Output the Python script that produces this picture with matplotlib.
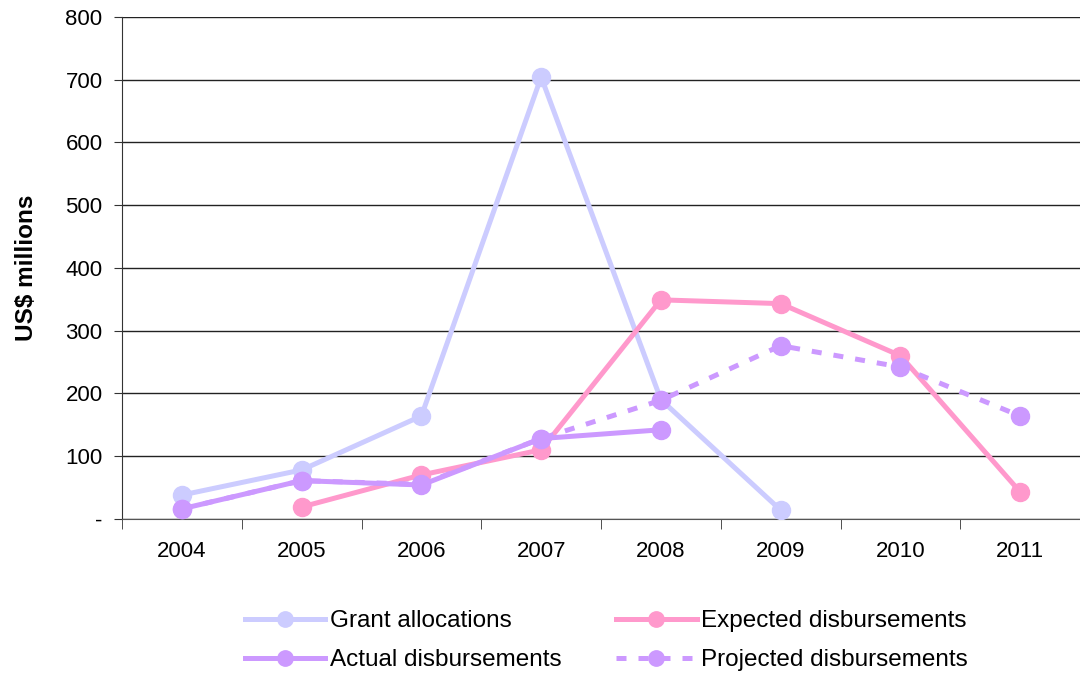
import matplotlib.pyplot as plt
import numpy as np

plt.rcParams['font.family'] = ['Liberation Sans', 'DejaVu Sans']

years = ['2004', '2005', '2006', '2007', '2008', '2009', '2010', '2011']
grant = [38, 78, 164, 704, 190, 14, None, None]
expected = [None, 19, 70, 110, 349, 343, 260, 43]
actual = [16, 61, 54, 128, 142, None, None, None]
projected = [16, 61, 55, 128, 189, 276, 242, 164]

x = np.arange(len(years))
fs = 16
lfs = 17.5


def series(vals):
    return np.array([np.nan if v is None else v for v in vals], dtype=float)


fig = plt.figure(figsize=(10.8, 6.73), dpi=100)
ax = fig.add_axes([0.113, 0.229, 0.887, 0.746])

lw = 3.6
ms = 13
ax.plot(x, series(grant), color='#CCCCFF', lw=lw, marker='o', ms=ms,
        label='Grant allocations', zorder=3)
ax.plot(x, series(expected), color='#FF99CC', lw=lw, marker='o', ms=ms,
        label='Expected disbursements', zorder=4)
ax.plot(x, series(projected), color='#CC99FF', lw=lw, marker='o', ms=ms,
        dashes=(2.0, 2.4), label='Projected disbursements', zorder=5)
ax.plot(x, series(actual), color='#CC99FF', lw=lw, marker='o', ms=ms,
        label='Actual disbursements', zorder=6)

ax.set_xlim(-0.5, len(years) - 0.5)
ax.set_ylim(0, 800)
ax.set_yticks(range(0, 801, 100))
ax.set_yticklabels(['-'] + [str(v) for v in range(100, 801, 100)])
ax.set_xticks(x)
ax.set_xticklabels(years)
ax.set_xticks(np.arange(-0.5, len(years), 1), minor=True)
ax.tick_params(axis='x', which='major', length=0, pad=16, labelsize=fs)
ax.tick_params(axis='x', which='minor', length=7, color='#333333')
ax.tick_params(axis='y', length=6, color='#333333', labelsize=fs, pad=8)
ax.grid(axis='y', color='#222222', lw=1.0)
ax.set_axisbelow(True)

for side in ['top', 'right']:
    ax.spines[side].set_visible(False)
ax.spines['left'].set_color('#333333')
ax.spines['bottom'].set_color('#555555')

ax.set_ylabel('US$ millions', fontsize=lfs, fontweight='bold', labelpad=20)

handles, labels = ax.get_legend_handles_labels()
order = [0, 3, 1, 2]
fig.legend([handles[i] for i in order], [labels[i] for i in order],
           loc='lower center', bbox_to_anchor=(0.5616, -0.03), ncol=2,
           frameon=False, fontsize=lfs, handlelength=3.3, handletextpad=0.2,
           columnspacing=2.25, labelspacing=0.7, markerscale=0.85)

fig.savefig('out.png', dpi=100)
